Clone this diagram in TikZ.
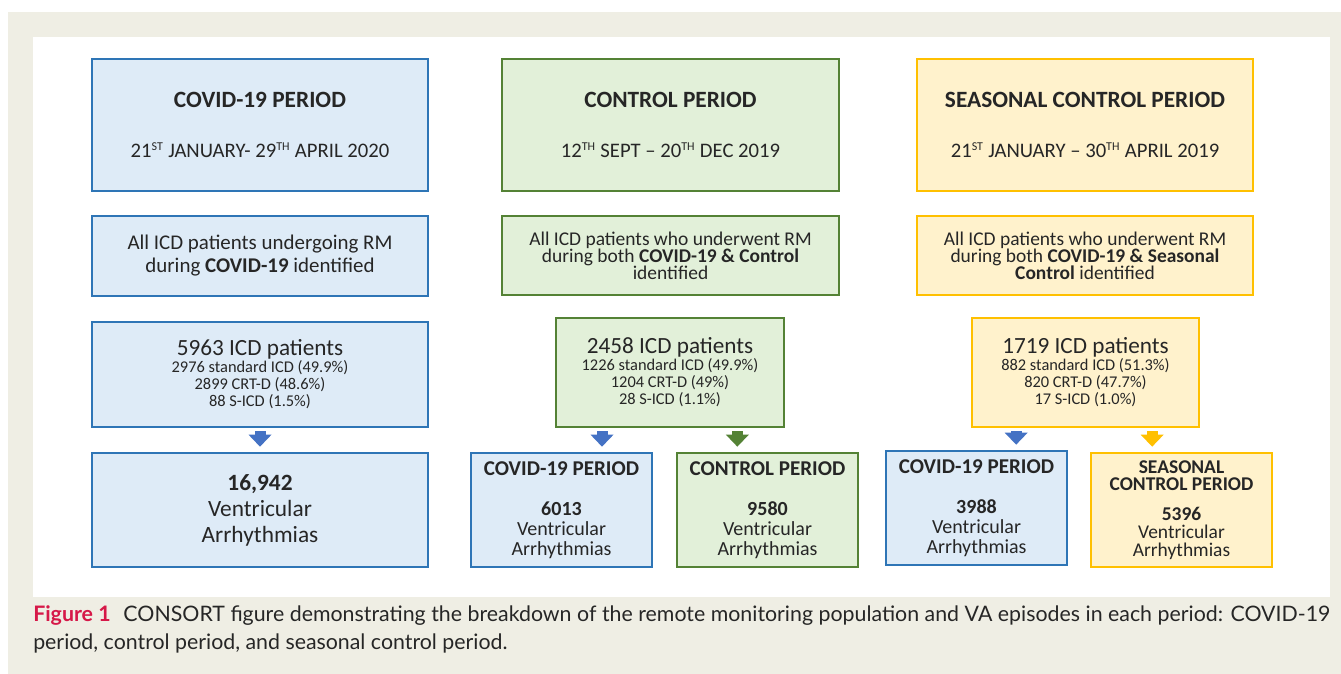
\documentclass[tikz,border=0pt]{standalone}
\usepackage{fontspec}
\setmainfont{Carlito}
\newfontfamily\capfont{Lato}
\usepackage{xcolor}
\usetikzlibrary{arrows.meta,positioning}

\definecolor{paper}{RGB}{239,238,228}
\definecolor{covline}{RGB}{46,117,182}
\definecolor{covfill}{RGB}{222,235,247}
\definecolor{ctlline}{RGB}{84,130,53}
\definecolor{ctlfill}{RGB}{226,240,217}
\definecolor{sealine}{RGB}{255,192,0}
\definecolor{seafill}{RGB}{255,242,204}
\definecolor{covarrow}{RGB}{68,114,196}
\definecolor{capred}{RGB}{214,24,72}
\definecolor{txt}{RGB}{38,38,38}

% font size with explicit baseline skip
\newcommand{\fs}[2]{\fontsize{#1pt}{#2pt}\selectfont}
\newcommand{\sups}[1]{\textsuperscript{\fontsize{9pt}{9pt}\selectfont #1}}

\begin{document}
\begin{tikzpicture}[
  x=0.75pt,y=-0.75pt,
  box/.style={draw,line width=2pt,inner sep=0pt,align=center,text=txt},
  cov/.style={box,draw=covline,fill=covfill},
  ctl/.style={box,draw=ctlline,fill=ctlfill},
  sea/.style={box,draw=sealine,fill=seafill},
  hdr/.style={minimum width=252pt,minimum height=99pt,font=\fs{15.5}{37.5}},
  sel/.style={minimum width=252pt,minimum height=60pt},
  pop/.style={minimum height=80pt,font=\fs{12.3}{12.75}},
  res/.style={minimum width=135.75pt,minimum height=85.5pt},
  blk/.style={line width=8.25pt,-{Triangle[length=9pt,width=17.25pt,line width=0pt]},
              shorten <=2.25pt,shorten >=3.75pt}
]
\useasboundingbox (0,0) rectangle (1341,674);
\fill[white] (0,0) rectangle (1341,674);
\fill[paper] (8,12) rectangle (1341,674);
\fill[white] (33,37) rectangle (1330,597);

% COVID-19 period
\node[cov,hdr] (c1top) at (260,125)
  {{\fs{17.5}{37.5}\bfseries COVID-19 PERIOD}\\
   21\sups{ST} JANUARY- 29\sups{TH} APRIL 2020};
\node[cov,sel,font=\fs{15.7}{17.25}] (c1sel) at (260,256)
  {All ICD patients undergoing RM\\during \textbf{COVID-19} identified};
\node[cov,pop,minimum width=252pt,minimum height=78.75pt] (c1pop) at (260,374.5)
  {{\fs{17.4}{14.25}5963 ICD patients}\\2976 standard ICD (49.9\%)\\
   2899 CRT-D (48.6\%)\\88 S-ICD (1.5\%)};
\node[cov,minimum width=252pt,minimum height=85.5pt,font=\fs{17.5}{19.5}] (c1va) at (260,510)
  {\textbf{16,942}\\Ventricular\\Arrhythmias};

% control period
\node[ctl,hdr,minimum width=252.75pt] (c2top) at (670.5,125)
  {{\fs{17.5}{37.5}\bfseries CONTROL PERIOD}\\
   12\sups{TH} SEPT -- 20\sups{TH} DEC 2019};
\node[ctl,sel,minimum width=252.75pt,minimum height=59.25pt,font=\fs{14.6}{12.8}] (c2sel) at (670.5,255.5)
  {All ICD patients who underwent RM\\during both \textbf{COVID-19 \& Control}\\identified};
\node[ctl,pop,minimum width=171pt,minimum height=81.75pt] (c2pop) at (670,372.5)
  {{\fs{17.4}{14.25}2458 ICD patients}\\1226 standard ICD (49.9\%)\\
   1204 CRT-D (49\%)\\28 S-ICD (1.1\%)};
\node[cov,res,font=\fs{15}{15}] (c2vacov) at (561.5,510)
  {{\fs{15.8}{15}\bfseries COVID-19 PERIOD}\\[15pt]\textbf{6013}\\Ventricular\\Arrhythmias};
\node[ctl,res,font=\fs{15}{15}] (c2vactl) at (767.5,510)
  {{\fs{15.8}{15}\bfseries CONTROL PERIOD}\\[15pt]\textbf{9580}\\Ventricular\\Arrhythmias};

% seasonal control period
\node[sea,hdr] (c3top) at (1085,125)
  {{\fs{17.5}{37.5}\bfseries SEASONAL CONTROL PERIOD}\\
   21\sups{ST} JANUARY -- 30\sups{TH} APRIL 2019};
\node[sea,sel,minimum height=59.25pt,font=\fs{14.6}{12.8}] (c3sel) at (1085,255.5)
  {All ICD patients who underwent RM\\during both \textbf{COVID-19 \& Seasonal}\\
   \textbf{Control} identified};
\node[sea,pop,minimum width=170.25pt,minimum height=81.75pt] (c3pop) at (1085.5,372.5)
  {{\fs{17.4}{14.25}1719 ICD patients}\\882 standard ICD (51.3\%)\\
   820 CRT-D (47.7\%)\\17 S-ICD (1.0\%)};
\node[cov,res,font=\fs{15}{15}] (c3vacov) at (976.5,508)
  {{\fs{15.8}{15}\bfseries COVID-19 PERIOD}\\[15pt]\textbf{3988}\\Ventricular\\Arrhythmias};
\node[sea,res,font=\fs{14.6}{13.4}] (c3vasea) at (1181.5,510)
  {\bfseries SEASONAL\\\bfseries CONTROL PERIOD\\[9pt]\textbf{5396}\\Ventricular\\Arrhythmias};

% block arrows
\draw[blk,covarrow] (c1pop.south) -- (c1va.north);
\draw[blk,covarrow] ([xshift=-51pt]c2pop.south) -- ([xshift=-51pt]c2pop.south |- c2vacov.north);
\draw[blk,ctlline] ([xshift=50.5pt]c2pop.south) -- ([xshift=50.5pt]c2pop.south |- c2vactl.north);
\draw[blk,covarrow] ([xshift=-52pt]c3pop.south) -- ([xshift=-52pt]c3pop.south |- c3vacov.north);
\draw[blk,sealine] ([xshift=50pt]c3pop.south) -- ([xshift=50pt]c3pop.south |- c3vasea.north);

% caption
\node[anchor=base west,inner sep=0pt,text width=972.75pt,align=justify,
      font=\capfont\fs{16}{21.5},text=txt] (caption) at (33,621)
  {{\bfseries\color{capred}Figure 1}\hspace{0.6em}CONSORT figure demonstrating the breakdown
   of the remote monitoring population and VA episodes in each period: COVID-19\linebreak
   period, control period, and seasonal control period.};
\end{tikzpicture}
\end{document}
